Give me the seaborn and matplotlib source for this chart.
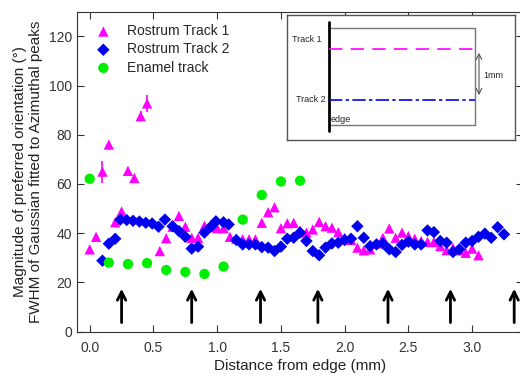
import matplotlib
matplotlib.use("Agg")
import matplotlib.pyplot as plt
import numpy as np
import pandas as pd
import seaborn as sns

# Rostrum track 1 (triangles)
t1_x = [0.00, 0.05, 0.10, 0.15, 0.20, 0.25, 0.30, 0.35, 0.40, 0.45,
        0.55, 0.60, 0.65, 0.70, 0.75, 0.80, 0.85, 0.90, 0.95, 1.00,
        1.05, 1.10, 1.15, 1.20, 1.25, 1.30, 1.35, 1.40, 1.45, 1.50,
        1.55, 1.60, 1.65, 1.70, 1.75, 1.80, 1.85, 1.90, 1.95, 2.00,
        2.05, 2.10, 2.15, 2.20, 2.25, 2.30, 2.35, 2.40, 2.45, 2.50,
        2.55, 2.60, 2.65, 2.70, 2.75, 2.80, 2.85, 2.90, 2.95, 3.00, 3.05]
t1_y = [33.4, 38.5, 65.0, 76.0, 44.4, 48.8, 65.3, 62.4, 87.5, 92.7,
        32.7, 37.9, 42.6, 47.0, 42.6, 38.1, 38.1, 43.0, 42.5, 42.0,
        42.0, 38.5, 37.7, 37.5, 37.5, 37.5, 44.2, 48.5, 50.5, 42.0,
        44.0, 44.2, 41.0, 40.2, 41.5, 44.6, 42.8, 42.2, 40.4, 38.1,
        37.2, 34.1, 33.0, 33.4, 35.8, 38.1, 41.9, 38.1, 40.2, 38.8,
        37.7, 36.8, 36.4, 36.4, 34.7, 33.1, 34.0, 33.0, 32.0, 33.7, 31.0]
t1_err = [0, 0, 4.5, 0, 0, 0, 0, 0, 2.0, 3.5] + [0] * 51

# Rostrum track 2 (diamonds)
t2_x = [0.10, 0.15, 0.20, 0.24, 0.29, 0.34, 0.39, 0.44, 0.49, 0.54,
        0.59, 0.65, 0.70, 0.75, 0.80, 0.85, 0.90, 0.95, 0.99, 1.05,
        1.09, 1.15, 1.20, 1.25, 1.30, 1.35, 1.40, 1.45, 1.50, 1.55,
        1.60, 1.65, 1.70, 1.75, 1.80, 1.85, 1.90, 1.95, 2.00, 2.05,
        2.10, 2.15, 2.20, 2.25, 2.30, 2.35, 2.40, 2.45, 2.50, 2.55,
        2.60, 2.65, 2.70, 2.75, 2.80, 2.85, 2.90, 2.95, 3.00, 3.05,
        3.10, 3.15, 3.20, 3.25]
t2_y = [28.8, 35.7, 37.7, 45.5, 45.3, 45.0, 44.7, 44.2, 43.9, 42.6,
        45.5, 42.8, 40.8, 38.5, 33.7, 34.5, 40.2, 42.6, 44.8, 44.4,
        43.5, 37.2, 35.4, 35.4, 35.4, 34.3, 34.1, 32.7, 34.5, 37.7,
        38.1, 40.2, 36.8, 32.7, 31.0, 34.1, 35.8, 36.1, 37.2, 37.7,
        42.8, 38.1, 34.7, 35.4, 35.8, 33.4, 32.3, 35.2, 36.5, 35.4,
        35.4, 41.1, 40.4, 36.8, 36.1, 32.3, 33.4, 36.1, 36.8, 38.5,
        39.8, 38.1, 42.4, 39.5]

# Enamel track (circles)
en_x = [0.00, 0.15, 0.30, 0.45, 0.60, 0.75, 0.90, 1.05, 1.20, 1.35, 1.50, 1.65]
en_y = [62.1, 28.0, 27.4, 27.8, 25.0, 24.2, 23.4, 26.4, 45.5, 55.5, 61.0, 61.3]

# arrow positions along the distance axis
arrow_x = [0.25, 0.80, 1.34, 1.79, 2.34, 2.83, 3.33]

sns.set_style("ticks")
plt.rcParams["font.family"] = ["Liberation Sans", "DejaVu Sans"]

fig = plt.figure(figsize=(5.2, 3.78), dpi=100)
ax = fig.add_axes([0.148, 0.123, 0.858, 0.846])

sns.scatterplot(x=t1_x, y=t1_y, marker="^", color="#FF00FF", s=55,
                edgecolor="none", label="Rostrum Track 1", ax=ax, zorder=3)
sns.scatterplot(x=t2_x, y=t2_y, marker="D", color="#0000EE", s=40,
                edgecolor="none", label="Rostrum Track 2", ax=ax, zorder=3)
sns.scatterplot(x=en_x, y=en_y, marker="o", color="#00EE00", s=55,
                edgecolor="none", label="Enamel track", ax=ax, zorder=3)
ax.errorbar(t1_x, t1_y, yerr=t1_err, fmt="none", ecolor="#FF00FF",
            elinewidth=1.2, capsize=0, zorder=2)

for xa in arrow_x:
    ax.annotate("", xy=(xa, 18.5), xytext=(xa, 2.5),
                arrowprops=dict(arrowstyle="->", color="black", lw=2.0,
                                mutation_scale=15))

ax.set_xlim(-0.1, 3.4)
ax.set_ylim(0, 130)
ax.set_xticks([0.0, 0.5, 1.0, 1.5, 2.0, 2.5, 3.0])
ax.set_yticks([0, 20, 40, 60, 80, 100, 120])
ax.tick_params(direction="in", top=True, right=True, labelsize=10,
               length=5, colors="#333333", labelcolor="#333333")
ax.tick_params(axis="x", pad=7)
for sp in ax.spines.values():
    sp.set_color("#333333")
ax.set_xlabel("Distance from edge (mm)", fontsize=11, color="#222222",
              labelpad=3)
ax.set_ylabel("Magnitude of preferred orientation (°)\n"
              "FWHM of Gaussian fitted to Azimuthal peaks",
              fontsize=11, color="#222222", linespacing=1.2)

leg = ax.legend(loc="upper left", frameon=False, fontsize=10,
                handletextpad=0.7, borderaxespad=0.5, labelspacing=0.3,
                markerscale=1.0)

# schematic inset (pixel-like coordinates inside the inset box)
ins = fig.add_axes([287 / 520, 1 - 140 / 378, 228 / 520, 125 / 378])
ins.set_xlim(287, 515)
ins.set_ylim(140, 15)
ins.set_xticks([])
ins.set_yticks([])
for sp in ins.spines.values():
    sp.set_color("#555555")
    sp.set_linewidth(1.0)
ins.plot([328.5, 475, 475, 328.5], [28, 28, 125, 125], color="#777777", lw=1)
ins.plot([328.5, 328.5], [22, 131], color="black", lw=2)
ins.plot([329, 478], [49, 49], color="#FF00FF", lw=1.2, dashes=(8, 5))
ins.plot([329, 475], [100, 100], color="#0000EE", lw=1.2, dashes=(8, 2, 2, 2))
ins.annotate("", xy=(479, 50), xytext=(479, 98),
             arrowprops=dict(arrowstyle="<->", color="#555555", lw=0.8,
                             mutation_scale=10))
ins.text(292, 40, "Track 1", fontsize=6.5, va="center")
ins.text(296, 100, "Track 2", fontsize=6.5, va="center")
ins.text(331, 120, "edge", fontsize=6.5, va="center")
ins.text(483, 76, "1mm", fontsize=6.5, va="center")

fig.savefig("out.png", dpi=100)
